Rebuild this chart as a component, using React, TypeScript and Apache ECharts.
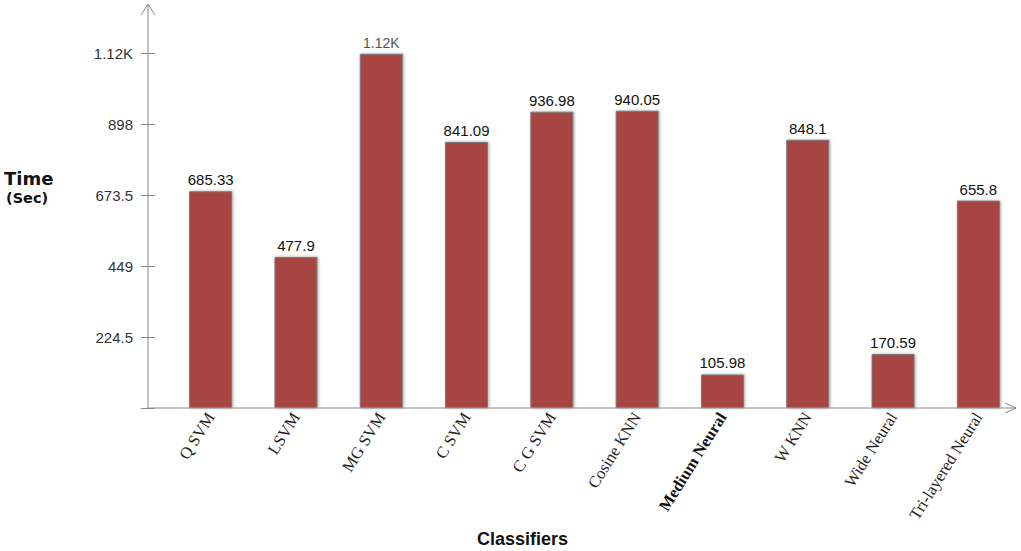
import React, { useEffect, useRef } from "react";
import * as echarts from "echarts";

const categories = [
  "Q SVM",
  "LSVM",
  "MG SVM",
  "C SVM",
  "C G SVM",
  "Cosine KNN",
  "Medium Neural",
  "W KNN",
  "Wide Neural",
  "Tri-layered Neural",
];
const times = [685.33, 477.9, 1120, 841.09, 936.98, 940.05, 105.98, 848.1, 170.59, 655.8];
const timeLabels = ["685.33", "477.9", "1.12K", "841.09", "936.98", "940.05", "105.98", "848.1", "170.59", "655.8"];
const boldCategories = ["Medium Neural"];
const yMax = 1122.5;
const yStep = 224.5;
const yTickLabels: Record<string, string> = {
  "224.5": "224.5",
  "449": "449",
  "673.5": "673.5",
  "898": "898",
  "1122.5": "1.12K",
};

const AXIS = "#8a8a8a";

export default function App() {
  const ref = useRef<HTMLDivElement>(null);
  useEffect(() => {
    if (!ref.current) return;
    const chart = echarts.init(ref.current, undefined, { renderer: "svg" });
    const yCommon = {
      type: "value" as const,
      min: 0,
      max: yMax,
      interval: yStep,
      position: "left" as const,
      offset: 20,
      splitLine: { show: false },
      axisLine: { show: false },
    };
    chart.setOption({
      animation: false,
      backgroundColor: "#ffffff",
      grid: { left: 168, right: -4, top: 53, bottom: 143, containLabel: false },
      xAxis: {
        type: "category",
        data: categories,
        axisLine: { show: false },
        axisTick: { show: false },
        axisLabel: {
          interval: 0,
          rotate: 58,
          margin: 6,
          fontFamily: "Liberation Serif",
          fontSize: 16.5,
          color: "#222",
          formatter: (v: string) => (boldCategories.includes(v) ? `{b|${v}}` : v),
          rich: {
            b: { fontFamily: "Liberation Serif", fontSize: 16.5, fontWeight: "bold", color: "#111" },
          },
        },
      },
      yAxis: [
        {
          ...yCommon,
          axisTick: { show: true, length: 7, lineStyle: { color: AXIS } },
          axisLabel: {
            margin: 15,
            fontFamily: "Liberation Sans",
            fontSize: 15,
            color: "#333",
            formatter: (v: number) => yTickLabels[String(v)] ?? "",
          },
        },
        {
          ...yCommon,
          axisTick: { show: true, inside: true, length: 7, lineStyle: { color: AXIS } },
          axisLabel: { show: false },
        },
      ],
      series: [
        {
          type: "bar",
          barWidth: 43,
          data: times.map((v, i) => ({
            value: v,
            label:
              timeLabels[i].endsWith("K")
                ? { fontSize: 14, color: "#555" }
                : undefined,
          })),
          itemStyle: {
            color: "#a64443",
            borderColor: "#7a7a7a",
            borderWidth: 1,
            shadowBlur: 3,
            shadowColor: "rgba(0,0,0,0.35)",
            shadowOffsetX: 1,
            shadowOffsetY: 0,
          },
          label: {
            show: true,
            position: "top",
            distance: 4,
            fontFamily: "Liberation Sans",
            fontSize: 15,
            color: "#111",
            formatter: (p: any) => timeLabels[p.dataIndex],
          },
        },
      ],
      graphic: [
        { type: "line", shape: { x1: 148, y1: 408, x2: 1016, y2: 408 }, style: { stroke: AXIS, lineWidth: 1 }, z: 10 },
        { type: "line", shape: { x1: 148, y1: 408, x2: 148, y2: 4 }, style: { stroke: AXIS, lineWidth: 1 }, z: 10 },
        {
          type: "polyline",
          shape: { points: [[141, 15], [148, 4], [155, 15]] },
          style: { stroke: AXIS, lineWidth: 1, fill: "none" },
          z: 10,
        },
        {
          type: "polyline",
          shape: { points: [[1005, 403], [1016, 408], [1005, 413]] },
          style: { stroke: AXIS, lineWidth: 1, fill: "none" },
          z: 10,
        },
        {
          type: "text",
          left: 4,
          top: 169,
          style: { text: "Time", fontFamily: "DejaVu Sans", fontWeight: "bold", fontSize: 18, fill: "#111" },
        },
        {
          type: "text",
          left: 6,
          top: 190,
          style: { text: "(Sec)", fontFamily: "DejaVu Sans", fontWeight: "bold", fontSize: 14.5, fill: "#111" },
        },
        {
          type: "text",
          left: 477,
          top: 530,
          style: { text: "Classifiers", fontFamily: "Liberation Sans", fontWeight: "bold", fontSize: 18, fill: "#111" },
        },
      ],
    });
    return () => chart.dispose();
  }, []);
  return (
    <div
      ref={ref}
      style={{ position: "fixed", left: 0, top: 0, width: 1021, height: 551, background: "#fff" }}
    />
  );
}
